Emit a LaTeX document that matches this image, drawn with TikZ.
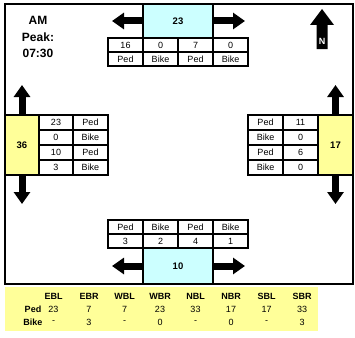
\documentclass[tikz,border=0pt]{standalone}
\usepackage{fontspec}
\setmainfont{Liberation Sans}
\usetikzlibrary{arrows.meta}
\definecolor{cyanbox}{HTML}{CCFFFF}
\definecolor{ylw}{HTML}{FFFF99}
\begin{document}
\begin{tikzpicture}[x=1pt,y=-1pt,
 cell/.style={draw, line width=1.1pt, minimum width=35pt, minimum height=14pt, inner sep=0pt, font=\fontsize{9}{10}\selectfont},
 vcell/.style={cell, minimum height=15pt},
 totbox/.style={draw, line width=1.1pt, inner sep=0pt, font=\bfseries\fontsize{9.5}{11}\selectfont},
 bigarrow/.style={line width=7pt, -{Triangle[length=12pt,width=16pt]}},
 hdr/.style={font=\bfseries\fontsize{9}{10}\selectfont, inner sep=0pt},
 val/.style={font=\fontsize{9}{10}\selectfont, inner sep=0pt}]
\useasboundingbox[fill=white] (0,0) rectangle (355,337);

% title
\node[align=center, font=\bfseries\fontsize{12}{16.5}\selectfont] (title) at (38,37) {AM\\Peak:\\07:30};

% north (top) approach
\node[totbox, fill=cyanbox, minimum width=70pt, minimum height=34pt] (ntot) at (178,21) {23};
\coordinate (nL) at (112,21);
\coordinate (nR) at (245,21);
\draw[bigarrow] (ntot.west) -- (nL);
\draw[bigarrow] (ntot.east) -- (nR);
\foreach \t [count=\i] in {16,0,7,0} \node[cell] (nv\i) at (90.5+35*\i,45) {\t};
\foreach \t [count=\i] in {Ped,Bike,Ped,Bike} \node[cell] (nl\i) at (90.5+35*\i,59) {\t};

% south (bottom) approach
\node[totbox, fill=cyanbox, minimum width=70pt, minimum height=36pt] (stot) at (178,266) {10};
\coordinate (sL) at (112,266);
\coordinate (sR) at (245,266);
\draw[bigarrow] (stot.west) -- (sL);
\draw[bigarrow] (stot.east) -- (sR);
\foreach \t [count=\i] in {Ped,Bike,Ped,Bike} \node[cell] (sl\i) at (90.5+35*\i,227) {\t};
\foreach \t [count=\i] in {3,2,4,1} \node[cell] (sv\i) at (90.5+35*\i,241) {\t};

% west (left) approach
\node[totbox, fill=ylw, minimum width=34pt, minimum height=60pt] (wtot) at (22,145) {36};
\coordinate (wU) at (22,85);
\coordinate (wD) at (22,204);
\draw[bigarrow] (wtot.north) -- (wU);
\draw[bigarrow] (wtot.south) -- (wD);
\foreach \t [count=\i] in {23,0,10,3} \node[vcell, minimum width=34pt] (wv\i) at (56,107.5+15*\i) {\t};
\foreach \t [count=\i] in {Ped,Bike,Ped,Bike} \node[vcell] (wl\i) at (90.5,107.5+15*\i) {\t};

% east (right) approach
\node[totbox, fill=ylw, minimum width=35pt, minimum height=60pt] (etot) at (335.5,145) {17};
\coordinate (eU) at (335.5,85);
\coordinate (eD) at (335.5,204);
\draw[bigarrow] (etot.north) -- (eU);
\draw[bigarrow] (etot.south) -- (eD);
\foreach \t [count=\i] in {Ped,Bike,Ped,Bike} \node[vcell] (el\i) at (265.5,107.5+15*\i) {\t};
\foreach \t [count=\i] in {11,0,6,0} \node[vcell] (ev\i) at (300.5,107.5+15*\i) {\t};

% north symbol
\fill (316.5,49) -- (316.5,25) -- (310,25) -- (322,9) -- (334,25) -- (327.5,25) -- (327.5,49) -- cycle;
\node[text=white, font=\bfseries\fontsize{9}{10}\selectfont, inner sep=0pt] (nsym) at (322,41) {N};

% frame
\draw[line width=2pt] (5,4) rectangle (353,284);

% summary table
\fill[ylw] (5,287) rectangle (318,331);
\node[hdr] (rped) at (33,309) {Ped};
\node[hdr] (rbike) at (33,322) {Bike};
\foreach \h/\p/\b [count=\i] in {EBL/23/-, EBR/7/3, WBL/7/-, WBR/23/0, NBL/33/-, NBR/17/0, SBL/17/-, SBR/33/3} {
  \node[hdr] (h\i) at (18+35.5*\i,296) {\h};
  \node[val] (p\i) at (18+35.5*\i,309) {\p};
  \node[val] (b\i) at (18+35.5*\i,322) {\b};
}
\end{tikzpicture}
\end{document}
